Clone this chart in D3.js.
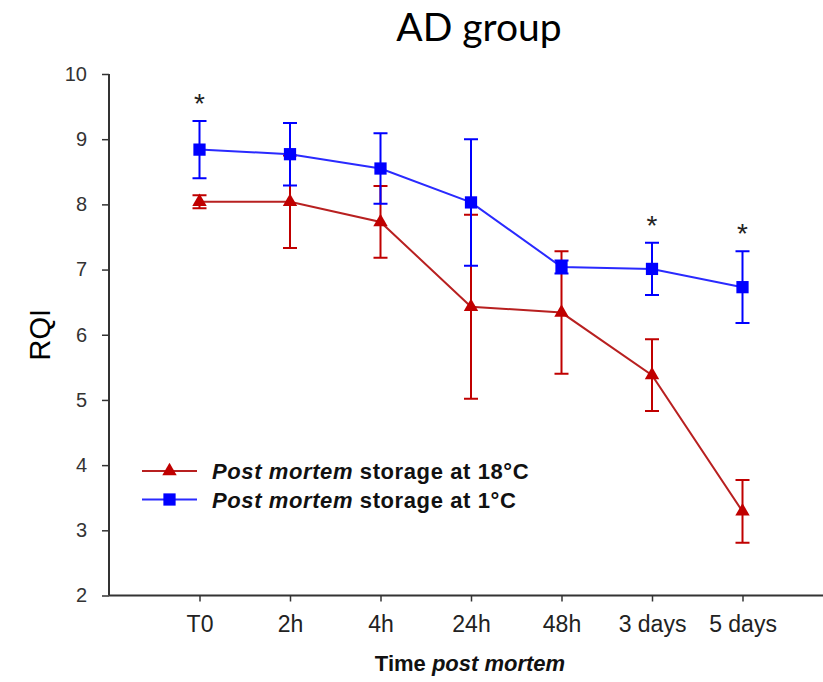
<!DOCTYPE html>
<html>
<head>
<meta charset="utf-8">
<script src="https://cdn.jsdelivr.net/npm/d3@7"></script>
<style>
  body { margin: 0; background: #fff; }
  svg { display: block; }
</style>
</head>
<body>
<svg id="canvas"></svg>
<script>
// data
const categories = ["T0", "2h", "4h", "24h", "48h", "3 days", "5 days"]
const warmMean = [8.04, 8.04, 7.73, 6.43, 6.34, 5.38, 3.29]
const warmSd   = [0.10, 0.71, 0.55, 1.41, 0.94, 0.55, 0.48]
const coldMean = [8.84, 8.77, 8.55, 8.03, 7.04, 7.01, 6.73]
const coldSd   = [0.44, 0.48, 0.54, 0.97, 0.10, 0.40, 0.55]
const sigIndex = [0, 5, 6]
const yTicks = [2, 3, 4, 5, 6, 7, 8, 9, 10]
const legendLabels = ["storage at 18°C", "storage at 1°C"]

const width = 823
const height = 682

const svg = d3.select("#canvas").attr("width", width).attr("height", height)

const xScale = d3.scaleLinear().domain([-1, 7]).range([109, 833])
const yScale = d3.scaleLinear().domain([2, 10]).range([595.5, 74])

const series = [
    { mean: warmMean, sd: warmSd, color: "#c00000", line: "#b82020", shape: d3.symbolTriangle, size: 90 },
    { mean: coldMean, sd: coldSd, color: "#0000ff", line: "#2a2aff", shape: d3.symbolSquare, size: 150 }
]

// title
svg.append("text")
    .attr("x", 479).attr("y", 41)
    .attr("text-anchor", "middle")
    .style("font-family", "Lato, 'Open Sans', sans-serif")
    .style("font-size", "39px")
    .style("fill", "#000")
    .text("AD group")

// axes
const yAxis = d3.axisLeft(yScale).tickValues(yTicks).tickSize(7).tickPadding(15).tickFormat(d3.format("d"))
const gy = svg.append("g").attr("transform", "translate(109,0)").call(yAxis)
gy.select(".domain").attr("d", "M0," + yScale(10) + "V" + yScale(2)).attr("stroke", "#333").attr("stroke-width", 2)
gy.selectAll(".tick line").attr("stroke", "#333").attr("stroke-width", 1.5)
gy.selectAll("text")
    .style("font-family", "Arial, 'Liberation Sans', sans-serif")
    .style("font-size", "20px")
    .style("fill", "#333")

const xAxis = d3.axisBottom(xScale).tickValues(d3.range(categories.length)).tickSize(6).tickPadding(14).tickFormat(i => categories[i])
const gx = svg.append("g").attr("transform", "translate(0," + yScale(2) + ")").call(xAxis)
gx.select(".domain").attr("d", "M109,0H" + width).attr("stroke", "#333").attr("stroke-width", 2)
gx.selectAll(".tick line").attr("stroke", "#333").attr("stroke-width", 1.5)
gx.selectAll("text")
    .style("font-family", "Arial, 'Liberation Sans', sans-serif")
    .style("font-size", "23px")
    .style("fill", "#222")

// axis titles
svg.append("text")
    .attr("transform", "translate(50," + yScale(6) + ") rotate(-90)")
    .attr("text-anchor", "middle")
    .style("font-family", "Arial, 'Liberation Sans', sans-serif")
    .style("font-size", "29px")
    .style("fill", "#000")
    .text("RQI")

const xTitle = svg.append("text")
    .attr("x", 470).attr("y", 671)
    .attr("text-anchor", "middle")
    .style("font-family", "Arial, 'Liberation Sans', sans-serif")
    .style("font-size", "22px")
    .style("font-weight", "bold")
    .style("fill", "#111")
xTitle.append("tspan").text("Time ")
xTitle.append("tspan").style("font-style", "italic").text("post mortem")

// series: error bars, line, markers
series.forEach(s => {
    const g = svg.append("g")
    const idx = d3.range(categories.length)

    g.selectAll(".err")
        .data(idx)
        .enter()
        .append("path")
        .attr("d", i => {
            const x = xScale(i)
            const y1 = yScale(s.mean[i] + s.sd[i])
            const y2 = yScale(s.mean[i] - s.sd[i])
            return "M" + (x - 7) + "," + y1 + "H" + (x + 7) +
                "M" + x + "," + y1 + "V" + y2 +
                "M" + (x - 7) + "," + y2 + "H" + (x + 7)
        })
        .attr("fill", "none")
        .attr("stroke", s.color)
        .attr("stroke-width", 2)

    g.append("path")
        .datum(idx)
        .attr("d", d3.line().x(i => xScale(i)).y(i => yScale(s.mean[i])))
        .attr("fill", "none")
        .attr("stroke", s.line)
        .attr("stroke-width", 2)

    g.selectAll(".mark")
        .data(idx)
        .enter()
        .append("path")
        .attr("transform", i => "translate(" + xScale(i) + "," + yScale(s.mean[i]) + ")")
        .attr("d", d3.symbol().type(s.shape).size(s.size))
        .attr("fill", s.color)
})

// significance stars above the 1°C error bars
svg.selectAll(".star")
    .data(sigIndex)
    .enter()
    .append("text")
    .attr("x", i => xScale(i))
    .attr("y", i => yScale(coldMean[i] + coldSd[i]) - 8)
    .attr("text-anchor", "middle")
    .style("font-family", "Arial, 'Liberation Sans', sans-serif")
    .style("font-size", "28px")
    .style("fill", "#222")
    .text("*")

// legend
const legend = svg.append("g").attr("id", "legend")
series.forEach((s, k) => {
    const ly = 471 + k * 28.5
    legend.append("line")
        .attr("x1", 142).attr("x2", 197).attr("y1", ly).attr("y2", ly)
        .attr("stroke", s.line).attr("stroke-width", 2)
    legend.append("path")
        .attr("transform", "translate(169.5," + ly + ")")
        .attr("d", d3.symbol().type(s.shape).size(s.size))
        .attr("fill", s.color)
    const t = legend.append("text")
        .attr("x", 212).attr("y", ly + 8)
        .style("font-family", "Arial, 'Liberation Sans', sans-serif")
        .style("font-size", "22px")
        .style("font-weight", "bold")
        .style("letter-spacing", "0.6px")
        .style("fill", "#111")
    t.append("tspan").style("font-style", "italic").text("Post mortem")
    t.append("tspan").text(" " + legendLabels[k])
})
</script>
</body>
</html>
